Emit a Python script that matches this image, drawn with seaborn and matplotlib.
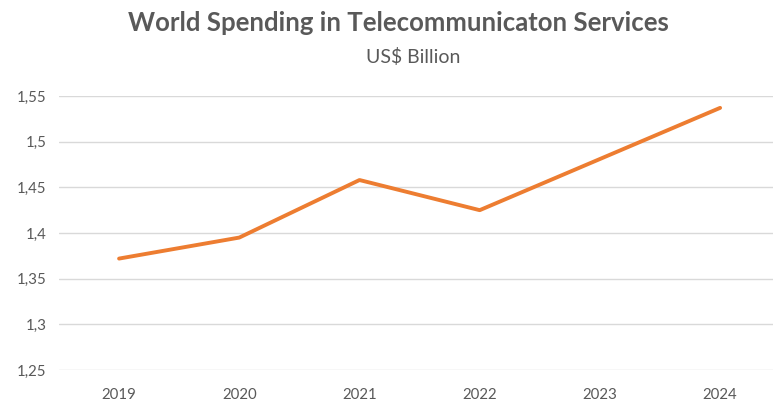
import matplotlib
matplotlib.use("Agg")
import matplotlib.pyplot as plt
import seaborn as sns
import pandas as pd
from matplotlib.ticker import FuncFormatter, MultipleLocator

years = ["2019", "2020", "2021", "2022", "2023", "2024"]
spending = [1.372, 1.395, 1.458, 1.425, 1.481, 1.537]

df = pd.DataFrame({"year": years, "spending": spending})
df["pos"] = range(len(years))

sns.set_style("white")
plt.rcParams["font.family"] = ["Lato", "DejaVu Sans"]

grey = "#595959"
fig = plt.figure(figsize=(7.73, 4.01), dpi=100)
ax = fig.add_axes([0.0763, 0.0773, 0.9237, 0.6833])

sns.lineplot(data=df, x="pos", y="spending", ax=ax, color="#ED7D31",
             linewidth=2.8, solid_capstyle="round")

ax.set_xlim(-0.5, 5.44)
ax.set_ylim(1.25, 1.55)
ax.yaxis.set_major_locator(MultipleLocator(0.05))
ax.yaxis.set_major_formatter(FuncFormatter(
    lambda v, _: f"{v:.2f}".rstrip("0").rstrip(".").replace(".", ",")))
ax.set_xticks(df["pos"])
ax.set_xticklabels(years)
ax.grid(axis="y", color="#D9D9D9", linewidth=1)
ax.set_axisbelow(True)
for s in ax.spines.values():
    s.set_visible(False)
ax.tick_params(axis="both", length=0, labelsize=10.8, colors=grey, pad=9)
ax.tick_params(axis="x", pad=13)
ax.set_xlabel("")
ax.set_ylabel("")

fig.text(0.516, 0.943, "World Spending in Telecommunicaton Services",
         ha="center", va="center", fontsize=18.5, fontweight="bold", color=grey)
fig.text(0.534, 0.858, "US$ Billion", ha="center", va="center",
         fontsize=14, color=grey)

fig.savefig("out.png", dpi=100)
